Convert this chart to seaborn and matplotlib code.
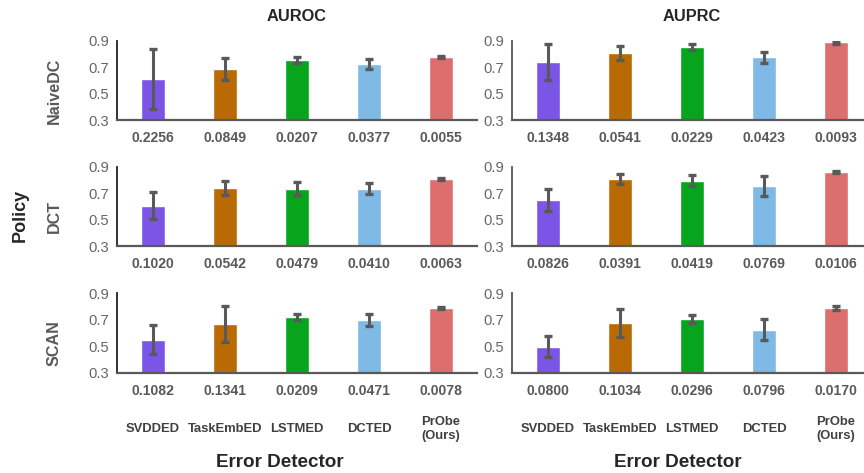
import numpy as np
import pandas as pd
import matplotlib
matplotlib.use("Agg")
import matplotlib.pyplot as plt
import seaborn as sns

detectors = ["SVDDED", "TaskEmbED", "LSTMED", "DCTED", "PrObe\n(Ours)"]
policies = ["NaiveDC", "DCT", "SCAN"]
metrics = ["AUROC", "AUPRC"]
colors = ["#7B55E6", "#B96A05", "#06A51C", "#7FB9E6", "#DD6E6E"]

# mean values
auroc_naivedc = [0.61, 0.686, 0.754, 0.723, 0.776]
auroc_dct = [0.605, 0.74, 0.733, 0.733, 0.807]
auroc_scan = [0.549, 0.669, 0.722, 0.70, 0.79]
auprc_naivedc = [0.739, 0.807, 0.852, 0.776, 0.887]
auprc_dct = [0.65, 0.807, 0.793, 0.755, 0.86]
auprc_scan = [0.496, 0.677, 0.707, 0.624, 0.79]

# std values (shown as tick labels + error bars)
auroc_naivedc_std = [0.2256, 0.0849, 0.0207, 0.0377, 0.0055]
auroc_dct_std = [0.1020, 0.0542, 0.0479, 0.0410, 0.0063]
auroc_scan_std = [0.1082, 0.1341, 0.0209, 0.0471, 0.0078]
auprc_naivedc_std = [0.1348, 0.0541, 0.0229, 0.0423, 0.0093]
auprc_dct_std = [0.0826, 0.0391, 0.0419, 0.0769, 0.0106]
auprc_scan_std = [0.0800, 0.1034, 0.0296, 0.0796, 0.0170]

means = {
    "AUROC": [auroc_naivedc, auroc_dct, auroc_scan],
    "AUPRC": [auprc_naivedc, auprc_dct, auprc_scan],
}
stds = {
    "AUROC": [auroc_naivedc_std, auroc_dct_std, auroc_scan_std],
    "AUPRC": [auprc_naivedc_std, auprc_dct_std, auprc_scan_std],
}

sns.set_style("white")
plt.rcParams["font.family"] = ["Liberation Sans", "DejaVu Sans"]

W, H = 864, 473
fig = plt.figure(figsize=(W / 100, H / 100), dpi=100)

col_left = [117, 512]
row_top = [40.7, 166.7, 293.3]
ax_w, ax_h = 360, 79.5

for c, metric in enumerate(metrics):
    for r, policy in enumerate(policies):
        ax = fig.add_axes(
            [col_left[c] / W, 1 - (row_top[r] + ax_h) / H, ax_w / W, ax_h / H]
        )
        df = pd.DataFrame(
            {"detector": detectors, "value": means[metric][r], "std": stds[metric][r]}
        )
        sns.barplot(
            x="detector",
            y="value",
            hue="detector",
            data=df,
            palette=colors,
            saturation=1,
            width=0.32,
            legend=False,
            errorbar=None,
            ax=ax,
        )
        ax.errorbar(
            np.arange(len(detectors)),
            df["value"],
            yerr=df["std"],
            fmt="none",
            ecolor="#595959",
            elinewidth=2.2,
            capsize=3,
            capthick=2.4,
        )
        ax.set_xlim(-0.5, 4.5)
        ax.set_ylim(0.3, 0.9)
        ax.set_yticks([0.3, 0.5, 0.7, 0.9])
        ax.set_yticklabels(["0.3", "0.5", "0.7", "0.9"], fontsize=10.6, color="#666666")
        spine_col = "#222222" if c == 0 else "#555555"
        ax.tick_params(axis="y", direction="inout", length=7, width=1.2, color=spine_col, pad=2)
        ax.set_xticks(range(len(detectors)))
        ax.set_xticklabels(
            [f"{s:.4f}" for s in df["std"]],
            fontsize=10.1,
            fontweight="bold",
            color="#595959",
        )
        ax.tick_params(axis="x", length=0, pad=8)
        ax.set_xlabel("")
        ax.set_ylabel("")
        for s in ["top", "right"]:
            ax.spines[s].set_visible(False)
        ax.spines["left"].set_color(spine_col)
        ax.spines["left"].set_linewidth(1.3)
        ax.spines["bottom"].set_color("#595959")
        ax.spines["bottom"].set_linewidth(1.6)

        if r == 0:
            ax.set_title(metric, fontsize=11.8, fontweight="bold", pad=14)
        if r == 2:
            centers = ax.get_xticks()
            for i, name in enumerate(detectors):
                xd = ax.transData.transform((centers[i], 0))[0]
                fig.text(
                    xd / W,
                    1 - 429 / H,
                    name,
                    ha="center",
                    va="center",
                    fontsize=9.4,
                    fontweight="bold",
                    color="#404040",
                    linespacing=1.25,
                )
            fig.text(
                (col_left[c] + 163) / W if c == 0 else (col_left[c] + 166) / W,
                1 - 462 / H,
                "Error Detector",
                ha="center",
                va="center",
                fontsize=13.6,
                fontweight="bold",
            )
        if c == 0:
            fig.text(
                54 / W,
                1 - (row_top[r] + ax_h / 2 + 10) / H,
                policy,
                rotation=90,
                ha="center",
                va="center",
                fontsize=11.6,
                fontweight="bold",
                color="#595959",
            )

fig.text(20 / W, 1 - 215 / H, "Policy", rotation=90, ha="center", va="center",
         fontsize=13, fontweight="bold")

fig.savefig("out.png", dpi=100)
